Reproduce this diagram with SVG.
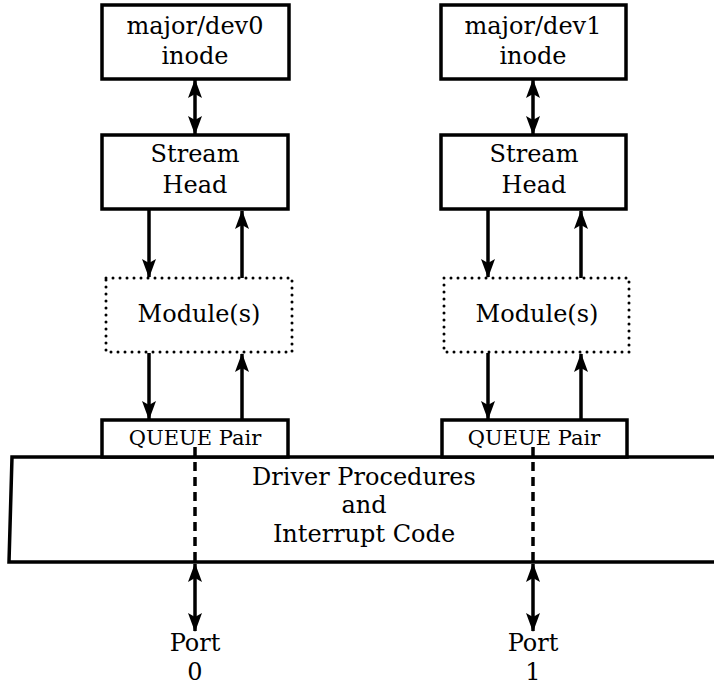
<svg xmlns="http://www.w3.org/2000/svg" width="714" height="685" viewBox="0 0 714 685">
<style>
.box{fill:#fff;stroke:#000;stroke-width:3.5}
.dot{fill:none;stroke:#000;stroke-width:3;stroke-linecap:round;stroke-dasharray:0 7}
.t{font-family:"DejaVu Serif","Liberation Serif",serif;font-size:24px;text-anchor:middle;fill:#000}
.ts{font-family:"DejaVu Serif","Liberation Serif",serif;font-size:21px;text-anchor:middle;fill:#000}
.ln{stroke:#000;stroke-width:3.5;fill:none}
.dash{stroke:#000;stroke-width:3.5;fill:none;stroke-dasharray:9 6}
</style>
<defs>
<marker id="ah" markerUnits="userSpaceOnUse" markerWidth="22" markerHeight="18" viewBox="-20 -9 22 18" refX="0" refY="0" orient="auto-start-reverse">
<path d="M1,0 L-18,-7 L-14,0 L-18,7 Z" fill="#000"/>
</marker>
</defs>
<g id="driver">
<path class="box" d="M716,457 L12,457 L9,562 L716,562"/>
<text class="t" x="364" y="485">Driver Procedures</text>
<text class="t" x="364" y="513">and</text>
<text class="t" x="364" y="542">Interrupt Code</text>
</g>
<g id="inode0"><rect class="box" x="102" y="5" width="187" height="74"/><text class="t" x="195" y="34">major/dev0</text><text class="t" x="195" y="64">inode</text></g>
<g id="head0"><rect class="box" x="102" y="135" width="186" height="74"/><text class="t" x="195" y="162">Stream</text><text class="t" x="195" y="193">Head</text></g>
<g id="mod0"><rect class="dot" x="106" y="278" width="186" height="74"/><text class="t" x="199" y="322">Module(s)</text></g>
<g id="queue0"><rect class="box" x="102" y="420" width="186" height="37"/><text class="ts" x="195" y="445">QUEUE Pair</text></g>
<g id="inode1"><rect class="box" x="441" y="5" width="185" height="74"/><text class="t" x="533" y="34">major/dev1</text><text class="t" x="533" y="64">inode</text></g>
<g id="head1"><rect class="box" x="441" y="135" width="185" height="74"/><text class="t" x="534" y="162">Stream</text><text class="t" x="534" y="193">Head</text></g>
<g id="mod1"><rect class="dot" x="444" y="278" width="185" height="74"/><text class="t" x="537" y="322">Module(s)</text></g>
<g id="queue1"><rect class="box" x="442" y="420" width="185" height="37"/><text class="ts" x="534" y="445">QUEUE Pair</text></g>
<g id="port0"><text class="t" x="195" y="651">Port</text><text class="t" x="195" y="680">0</text></g>
<g id="port1"><text class="t" x="533" y="651">Port</text><text class="t" x="533" y="680">1</text></g>
<g id="connectors">
<line class="ln" x1="195" y1="80" x2="195" y2="134" marker-start="url(#ah)" marker-end="url(#ah)"/>
<line class="ln" x1="533" y1="80" x2="533" y2="134" marker-start="url(#ah)" marker-end="url(#ah)"/>
<line class="ln" x1="149" y1="210" x2="149" y2="277" marker-end="url(#ah)"/>
<line class="ln" x1="242" y1="278" x2="242" y2="211" marker-end="url(#ah)"/>
<line class="ln" x1="488" y1="210" x2="488" y2="277" marker-end="url(#ah)"/>
<line class="ln" x1="581" y1="278" x2="581" y2="211" marker-end="url(#ah)"/>
<line class="ln" x1="149" y1="353" x2="149" y2="419" marker-end="url(#ah)"/>
<line class="ln" x1="242" y1="420" x2="242" y2="354" marker-end="url(#ah)"/>
<line class="ln" x1="488" y1="353" x2="488" y2="419" marker-end="url(#ah)"/>
<line class="ln" x1="581" y1="420" x2="581" y2="354" marker-end="url(#ah)"/>
<line class="dash" x1="195" y1="447" x2="195" y2="562"/>
<line class="dash" x1="533" y1="447" x2="533" y2="562"/>
<line class="ln" x1="195" y1="564" x2="195" y2="631" marker-start="url(#ah)" marker-end="url(#ah)"/>
<line class="ln" x1="533" y1="564" x2="533" y2="631" marker-start="url(#ah)" marker-end="url(#ah)"/>
</g>
</svg>
